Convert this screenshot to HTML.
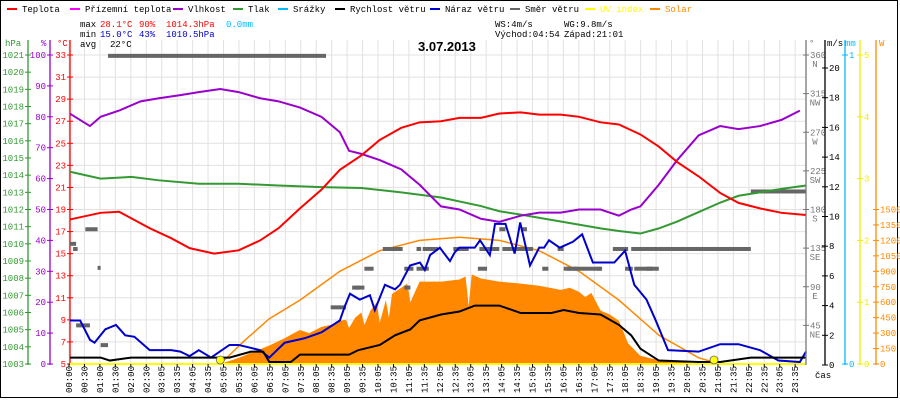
<!DOCTYPE html>
<html><head><meta charset="utf-8"><style>
body{margin:0;background:#fff}
svg{display:block;font-family:"Liberation Mono","DejaVu Sans Mono",monospace;font-size:9px}
</style></head><body>
<svg id="c" width="900" height="400" viewBox="0 0 900 400"></svg>
<script>
// ---- data (hours, values) ----
const tempH=[0,1,1.6,2.6,3.3,3.9,4.7,5.5,6.2,6.8,7.5,8.2,8.8,9.5,10.1,10.8,11.4,12.1,12.7,13.4,14.0,14.7,15.3,16.0,16.6,17.3,17.9,18.6,19.2,19.8,20.5,21.2,21.8,22.5,23.2,24];
const tempV=[18.1,18.7,18.8,17.3,16.4,15.5,15.0,15.3,16.2,17.3,19.1,20.8,22.6,23.9,25.3,26.4,26.9,27.0,27.3,27.3,27.7,27.8,27.6,27.6,27.4,26.9,26.7,25.8,24.7,23.3,22.0,20.5,19.6,19.1,18.7,18.5];
const humH=[0,0.65,1,1.6,2.3,2.9,3.6,4.2,4.9,5.5,6.2,6.8,7.5,8.2,8.8,9.1,9.5,10.1,10.8,11.4,12.1,12.7,13.4,14.0,14.7,15.3,16.0,16.6,17.3,17.9,18.3,18.6,19.2,19.8,20.5,21.2,21.8,22.5,23.2,23.8];
const humV=[81,77,80,82,85,86,87,88,89,88,86,85,83,80,75,69,68,66,63,58,51,50,47,46,48,49,49,50,50,48,50,51,58,66,74,77,76,77,79,82];
const presH=[0,1,2,2.9,4.2,5.5,6.8,8.2,9.5,10.8,12.1,13.4,14,14.7,16,17.3,17.9,18.6,19.2,19.8,20.5,21.2,21.8,22.5,23.2,24];
const presV=[1014.2,1013.8,1013.9,1013.7,1013.5,1013.5,1013.4,1013.3,1013.25,1013.0,1012.7,1012.2,1011.9,1011.7,1011.3,1010.9,1010.75,1010.6,1010.9,1011.3,1011.85,1012.4,1012.8,1013.0,1013.2,1013.4];
const windH=[0,1,1.3,2,4.2,5.2,5.9,6.3,6.5,7.2,7.5,8.2,9.1,9.4,10.1,10.6,11.1,11.4,12.1,12.7,13.2,14.0,14.7,15.7,16.1,16.6,17.3,17.9,18.3,18.6,19.2,20.5,21.2,22.2,24];
const windV=[0.5,0.5,0.3,0.5,0.5,0.5,0.9,0.9,0.2,0.2,0.7,0.7,0.7,1.0,1.35,2.0,2.4,3.0,3.4,3.6,4.0,4.0,3.5,3.5,3.7,3.5,3.4,2.7,2.0,1.1,0.3,0.2,0.2,0.5,0.5];
const gustH=[0,0.33,0.65,0.8,1.15,1.5,1.8,2.1,2.6,3.3,3.6,3.9,4.2,4.6,5.2,5.5,6.2,6.5,7.0,7.65,8.2,8.8,8.97,9.13,9.45,9.78,9.94,10.27,10.6,10.76,11.09,11.41,11.57,11.74,12.06,12.39,12.55,12.7,13.2,13.37,13.69,13.86,14.2,14.5,14.68,15.0,15.3,15.46,15.62,15.97,16.4,16.7,17.05,17.4,17.75,18.1,18.4,18.8,19.1,19.5,20.5,21.2,21.8,22.5,23.1,23.8,24];
const gustV=[3.0,3.0,1.7,1.5,2.4,2.7,2.0,1.9,1.0,1.0,0.9,0.6,1.0,0.5,1.35,1.35,1.0,0.5,1.5,1.8,2.2,3.0,4.0,4.8,4.4,4.7,3.7,5.4,5.1,5.4,6.7,6.9,6.4,7.4,7.9,7.0,7.6,7.9,7.9,8.4,7.4,9.5,9.5,7.5,9.6,6.7,7.9,7.9,8.4,7.9,8.3,8.8,6.9,6.9,6.9,7.7,5.4,4.4,3.0,1.0,0.9,1.4,1.4,1.0,0.3,0.2,0.9];
const solH=[4.9,5.5,6.0,6.5,7.0,7.3,7.5,7.8,8.2,8.5,8.8,9.0,9.1,9.3,9.5,9.6,9.8,10.0,10.1,10.3,10.4,10.5,10.8,11.0,11.1,11.4,11.7,12.1,12.7,12.9,13.0,13.1,13.4,14.0,14.7,15.3,16.0,16.3,16.6,16.8,17.0,17.3,17.6,17.9,18.2,18.6,19.0,19.6,20.2,20.6];
const solV=[0,60,120,180,250,300,330,300,360,380,420,430,350,450,500,380,520,600,400,620,450,680,740,780,600,800,800,800,820,850,560,870,830,800,780,760,720,740,700,650,690,520,480,420,200,80,50,30,10,0];
const clrH=[4.9,5.7,6.5,7.5,8.8,10.1,11.4,12.7,14.0,15.3,16.6,17.9,19.2,20.5,21.2];
const clrV=[0,230,440,620,900,1100,1200,1230,1200,1100,900,620,280,60,0];
const dirStart=[0,0.1,0.5,0.9,0.2,1.0,1.24,8.5,9.2,9.3,9.6,10.9,11.3,10.2,10.5,10.75,10.9,11.3,11.5,12.5,13.35,13.6,14.1,14.4,15.9,16.0,16.1,16.2,16.4,17.7,18.3,18.7,18.1,18.2,18.4,18.8,16.2,15.4,17.2,14.0,14.7,13.3,22.2];
const dirEnd=[0.2,0.25,0.9,0.95,0.65,1.24,8.35,9.0,9.45,9.6,9.9,11.1,11.7,10.8,10.6,10.8,11.2,11.45,12.0,13.0,13.6,14.0,14.4,15.1,16.0,16.05,16.2,17.3,16.55,18.2,18.7,22.2,18.25,18.35,19.0,19.2,16.35,15.6,17.35,14.2,14.9,13.6,24.0];
const dirV=[140,134,157,112,45,22,359,66,89,89,111,89,111,134,134,134,111,134,134,134,134,134,134,134,134,134,111,111,111,134,134,134,111,111,111,111,111,111,111,157,157,111,201];
const hpaTicks=[1003,1004,1005,1006,1007,1008,1009,1010,1011,1012,1013,1014,1015,1016,1017,1018,1019,1020,1021];
const pctTicks=[0,10,20,30,40,50,60,70,80,90,100];
const tTicks=[5,7,9,11,13,15,17,19,21,23,25,27,29,31,33];
const degTicks=[45,90,135,180,225,270,315,360];
const degNames=["NE","E","SE","S","SW","W","NW","N"];
const msTicks=[0,2,4,6,8,10,12,14,16,18,20];
const uvTicks=[0,1,2,3,4,5];
const wTicks=[0,150,300,450,600,750,900,1050,1200,1350,1500];
const timeLabels=["00:00","00:30","01:00","01:30","02:00","02:30"];
for(let h=3;h<24;h++){const s=String(h).padStart(2,"0");timeLabels.push(s+":05",s+":35");}

// ---- scales ----
const X0=70,X1=806,YT=55,YB=364;
const xh=h=>X0+h*(X1-X0)/24;
const yT=t=>YB-(t-5)*(YB-YT)/28;
const yP=p=>YB-p*(YB-YT)/100;
const yH=p=>YB-(p-1003)*(YB-YT)/18;
const yMS=v=>365-v*14.85;
const yDeg=d=>YB-d*(YB-YT)/360;
const yUV=u=>YB-u*(YB-YT)/5;
const yW=w=>YB-w*(YB-YT)/3000;

const svg=document.getElementById('c');const NS="http://www.w3.org/2000/svg";
function el(tag,attrs,parent){const e=document.createElementNS(NS,tag);for(const k in attrs)e.setAttribute(k,attrs[k]);(parent||svg).appendChild(e);return e;}
function txt(x,y,s,fill,anchor,parent){const t=el('text',{x:x,y:y,fill:fill||'#000','text-anchor':anchor||'start'},parent);t.textContent=s;return t;}

// frame
const fr=el('rect',{x:0.5,y:0.5,width:897,height:397,fill:'none',stroke:'#000'});



// grid
const grid=el('g',{});


for(let k=0;k<48;k++){const x=69+k*15.45;el('line',{x1:x,y1:40,x2:x,y2:YB,stroke:'#e4e0e0'},grid);}
tTicks.forEach(t=>el('line',{x1:X0,y1:yT(t),x2:X1,y2:yT(t),stroke:'#e4e0e0'},grid));

// legend
const legend=[["Teplota","#f00",7],["Přízemní teplota","#f0f",70],["Vlhkost","#90c",173],["Tlak","#393",233],["Srážky","#0bf",278],["Rychlost větru","#000",335],["Náraz větru","#00c",430],["Směr větru","#666",510],["UV index","#ff0",585],["Solar","#f80",650]];
legend.forEach(l=>{const g=el('g',{});


el('rect',{x:l[2],y:8,width:10,height:2,fill:l[1]},g);
const t=txt(l[2]+15,12,l[0],(l[0]=="UV index"||l[0]=="Solar")?l[1]:'#000','start',g);});

// stats
const st=el('g',{});


txt(80,27,"max","#000","start",st);txt(100,27,"28.1°C","#f00","start",st);txt(139,27,"90%","#f00","start",st);txt(166,27,"1014.3hPa","#f00","start",st);txt(226,27,"0.0mm","#0bf","start",st);
txt(80,37,"min","#000","start",st);txt(100,37,"15.0°C","#00c","start",st);txt(139,37,"43%","#00c","start",st);txt(166,37,"1010.5hPa","#00c","start",st);
txt(80,47,"avg","#000","start",st);txt(110,47,"22°C","#000","start",st);
txt(495,27,"WS:4m/s","#000","start",st);txt(564,27,"WG:9.8m/s","#000","start",st);
txt(495,37,"Východ:04:54","#000","start",st);txt(564,37,"Západ:21:01","#000","start",st);
const title=el('text',{x:418,y:51,'font-family':'Liberation Sans, sans-serif','font-size':'13','font-weight':'bold',fill:'#000'});title.textContent="3.07.2013";



// left axes
function axis(name,x,color,ticks,yf,fmt,side,header,hx){const g=el('g',{});


el('line',{x1:x,y1:40,x2:x,y2:YB+1,stroke:color,'stroke-width':1.3},g);
ticks.forEach((t,i)=>{const y=yf(t);el('line',{x1:x-3,y1:y,x2:x+3,y2:y,stroke:color},g);
const s=fmt?fmt(t,i):String(t);if(side<0)txt(x-4,y+3,s,color,'end',g);else txt(x+4,y+3,s,color,'start',g);});
if(header)txt(hx,46,header,color,'start',g);return g;}
axis('hpa-axis',28,'#393',hpaTicks,yH,null,-1,'hPa',5);
axis('humidity-axis',50,'#90c',pctTicks,yP,null,-1,'%',41);
axis('temperature-axis',70,'#f00',tTicks,yT,null,-1,'°C',57);

// series
function line(name,H,V,yf,color,w){const p=el('polyline',{points:H.map((h,i)=>xh(h)+','+yf(V[i])).join(' '),fill:'none',stroke:color,'stroke-width':w||2});

return p;}
const area=el('polygon',{points:xh(solH[0])+','+YB+' '+solH.map((h,i)=>xh(h)+','+yW(solV[i])).join(' ')+' '+xh(solH[solH.length-1])+','+YB,fill:'#f80'});


line('solar-clear-sky-line',clrH,clrV,yW,'#f80',1.5);
dirV.forEach((d,i)=>{const r=el('rect',{x:xh(dirStart[i]),y:yDeg(d)-2,width:Math.max(3,xh(dirEnd[i])-xh(dirStart[i])),height:4,fill:'#666'});

});
line('pressure-line',presH,presV,yH,'#393');
line('humidity-line',humH,humV,yP,'#90c');
line('temperature-line',tempH,tempV,yT,'#f00');
line('gust-line',gustH,gustV,yMS,'#00c');
line('wind-speed-line',windH,windV,yMS,'#000');
const uv=el('line',{x1:X0,y1:YB,x2:X1,y2:YB,stroke:'#ff0','stroke-width':2});


[4.9,21.0].forEach(h=>{const c=el('circle',{cx:xh(h),cy:YB-4,r:4,fill:'#ff0',stroke:'#666','stroke-width':0.8});

});

// right axes
axis('direction-axis',806,'#777',degTicks,yDeg,null,1,'°',809);
const dn=el('g',{});degTicks.forEach((d,i)=>txt(815,yDeg(d)+12,degNames[i],'#777','middle',dn));
axis('wind-speed-axis',825,'#000',msTicks,yMS,null,1,'m/s',827);
axis('rain-axis',845,'#0bf',[0,1],t=>YB-t*(YB-YT),null,1,'mm',845);
axis('uv-axis',860,'#ee0',uvTicks,yUV,null,1,null,0);
axis('solar-axis',876,'#f80',wTicks,yW,null,1,'W',879);

// x labels
const xl=el('g',{});


timeLabels.forEach((s,k)=>{const x=69+k*15.45;el('line',{x1:x,y1:YB,x2:x,y2:YB+3,stroke:'#000'},xl);
const t=el('text',{x:0,y:0,fill:'#000','text-anchor':'end',transform:`translate(${x+3},366) rotate(-90)`},xl);t.textContent=s;});
txt(815,378,"čas","#000","start");
</script>
</body></html>
